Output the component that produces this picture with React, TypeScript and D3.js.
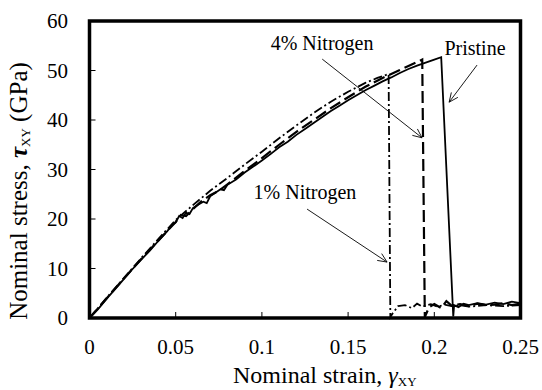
import React from "react";
import * as d3 from "d3";

// Shear stress–strain curves (strain, stress in GPa)
const pristine: [number, number][] = [
  [0, 0], [0.005, 1.8], [0.01, 3.9], [0.015, 5.9], [0.02, 7.9], [0.025, 9.9],
  [0.03, 11.8], [0.035, 13.6], [0.04, 15.6], [0.045, 17.5], [0.048, 18.8],
  [0.05, 19.3], [0.052, 20.6], [0.054, 20.2], [0.056, 21.3], [0.058, 21.0],
  [0.06, 22.2], [0.063, 22.9], [0.066, 23.5], [0.068, 23.2], [0.07, 24.6],
  [0.073, 25.3], [0.076, 26.0], [0.078, 25.8], [0.08, 26.9], [0.085, 28.0],
  [0.09, 29.4], [0.095, 30.6], [0.1, 31.8], [0.105, 33.1], [0.11, 34.5],
  [0.115, 35.6], [0.12, 37.0], [0.125, 38.2], [0.13, 39.4], [0.135, 40.6],
  [0.14, 41.8], [0.145, 42.9], [0.15, 44.0], [0.155, 45.0], [0.16, 46.0],
  [0.165, 46.9], [0.17, 47.8], [0.175, 48.6], [0.18, 49.5], [0.185, 50.3],
  [0.19, 51.0], [0.195, 51.6], [0.2, 52.2], [0.204, 52.7],
  [0.211, 0.3], [0.2115, 2.6], [0.214, 2.2], [0.217, 2.9], [0.22, 2.6],
  [0.225, 3.0], [0.23, 2.7], [0.235, 3.1], [0.24, 2.8], [0.245, 3.3], [0.25, 3.0],
];

const nitrogen4: [number, number][] = [
  [0, 0], [0.01, 4.0], [0.02, 8.0], [0.03, 11.9], [0.04, 15.7], [0.05, 19.4],
  [0.053, 20.8], [0.056, 20.6], [0.06, 22.0], [0.065, 23.6], [0.07, 24.8],
  [0.075, 25.7], [0.08, 27.0], [0.09, 29.7], [0.1, 32.3], [0.11, 35.0],
  [0.12, 37.6], [0.13, 40.0], [0.14, 42.4], [0.15, 44.6], [0.16, 46.7],
  [0.17, 48.5], [0.18, 50.1], [0.185, 50.9], [0.19, 51.7], [0.193, 52.2],
  [0.1945, 0.2], [0.197, 2.2], [0.2, 2.8], [0.204, 2.0], [0.207, 3.4],
  [0.21, 2.5], [0.215, 2.8], [0.22, 2.4], [0.225, 2.9], [0.23, 2.6],
  [0.235, 2.7], [0.24, 3.0], [0.245, 2.6], [0.25, 2.9],
];

const nitrogen1: [number, number][] = [
  [0, 0], [0.01, 4.1], [0.02, 8.1], [0.03, 12.1], [0.04, 16.0], [0.05, 19.8],
  [0.06, 22.8], [0.07, 25.7], [0.08, 28.3], [0.09, 31.0], [0.1, 33.6],
  [0.11, 36.3], [0.12, 38.9], [0.13, 41.4], [0.14, 43.7], [0.15, 45.7],
  [0.16, 47.5], [0.167, 48.5], [0.172, 49.1], [0.1735, 49.3],
  [0.1745, 0.2], [0.176, 1.0], [0.179, 2.4], [0.183, 2.6], [0.187, 2.0],
  [0.19, 2.9], [0.193, 2.3], [0.198, 2.8], [0.202, 2.3], [0.206, 2.7],
  [0.21, 2.4], [0.215, 2.6], [0.22, 2.3], [0.23, 2.6], [0.24, 2.4], [0.25, 2.6],
];

const xTicks = [0, 0.05, 0.1, 0.15, 0.2, 0.25];
const xTickLabels = ["0", "0.05", "0.1", "0.15", "0.2", "0.25"];
const yTicks = [0, 10, 20, 30, 40, 50, 60];

// Callout labels: text anchor point and arrow (from -> to) in data units
const callouts = [
  { text: "4% Nitrogen", tx: 0.1349, ty: 54.1, from: [0.135, 52.3], to: [0.1929, 36.4] },
  { text: "Pristine", tx: 0.2236, ty: 53.1, from: [0.2248, 51.1], to: [0.2086, 43.6] },
  { text: "1% Nitrogen", tx: 0.125, ty: 24.0, from: [0.1262, 22.0], to: [0.1726, 11.3] },
];

const W = 542;
const H = 390;
const left = 89.5;
const right = 520.5;
const top = 21;
const bottom = 318;
const txt = { fontFamily: "Liberation Serif" };

export default function App() {
  const x = d3.scaleLinear().domain([0, 0.25]).range([left, right]);
  const y = d3.scaleLinear().domain([0, 60]).range([bottom, top]);
  const line = d3
    .line<[number, number]>()
    .x((d) => x(d[0]))
    .y((d) => y(d[1]));

  const arrowHead = (x1: number, y1: number, x2: number, y2: number) => {
    const ang = Math.atan2(y2 - y1, x2 - x1);
    const len = 10;
    const spread = 0.42;
    const a = [x2 - len * Math.cos(ang - spread), y2 - len * Math.sin(ang - spread)];
    const b = [x2 - len * Math.cos(ang + spread), y2 - len * Math.sin(ang + spread)];
    return `M${a[0]},${a[1]}L${x2},${y2}L${b[0]},${b[1]}`;
  };

  return (
    <svg
      width={W}
      height={H}
      style={{ position: "absolute", left: 0, top: 0, background: "#fff" }}
    >
      <rect x={0} y={0} width={W} height={H} fill="#fff" />

      {/* curves */}
      <path d={line(nitrogen1) ?? ""} fill="none" stroke="#000" strokeWidth={1.8}
        strokeDasharray="9 3 2 3" />
      <path d={line(nitrogen4) ?? ""} fill="none" stroke="#000" strokeWidth={2.2}
        strokeDasharray="12 5" />
      <path d={line(pristine) ?? ""} fill="none" stroke="#000" strokeWidth={1.8} />

      {/* ticks (inward) */}
      {xTicks.map((t) => (
        <line key={"xt" + t} x1={x(t)} x2={x(t)} y1={bottom} y2={bottom - 6}
          stroke="#000" strokeWidth={1} />
      ))}
      {yTicks.map((t) => (
        <line key={"yt" + t} x1={left} x2={left + 6} y1={y(t)} y2={y(t)}
          stroke="#000" strokeWidth={1} />
      ))}

      {/* frame */}
      <rect x={left} y={top} width={right - left} height={bottom - top}
        fill="none" stroke="#000" strokeWidth={3.5} />

      {/* tick labels */}
      {xTicks.map((t, i) => (
        <text key={"xl" + t} x={x(t)} y={354} textAnchor="middle" fontSize={21} style={txt}>
          {xTickLabels[i]}
        </text>
      ))}
      {yTicks.map((t) => (
        <text key={"yl" + t} x={68} y={y(t)} dy="0.35em" textAnchor="end" fontSize={21} style={txt}>
          {t}
        </text>
      ))}

      {/* axis titles */}
      <text x={233} y={383} fontSize={24} style={txt}>
        Nominal strain,{" "}
        <tspan fontStyle="italic">γ</tspan>
        <tspan fontSize={13} dy={3}>XY</tspan>
      </text>
      <text transform={`translate(27,${191}) rotate(-90)`} textAnchor="middle" fontSize={25} style={txt}>
        Nominal stress,{" "}
        <tspan fontStyle="italic" fontWeight="bold">τ</tspan>
        <tspan fontSize={13} dy={3}>XY</tspan>
        <tspan dy={-3}> (GPa)</tspan>
      </text>

      {/* callouts */}
      {callouts.map((c) => {
        const x1 = x(c.from[0]);
        const y1 = y(c.from[1]);
        const x2 = x(c.to[0]);
        const y2 = y(c.to[1]);
        return (
          <g key={c.text}>
            <text x={x(c.tx)} y={y(c.ty)} textAnchor="middle" fontSize={20} style={txt}>
              {c.text}
            </text>
            <line x1={x1} y1={y1} x2={x2} y2={y2} stroke="#000" strokeWidth={0.9} />
            <path d={arrowHead(x1, y1, x2, y2)} fill="none" stroke="#000" strokeWidth={0.9} />
          </g>
        );
      })}
    </svg>
  );
}
